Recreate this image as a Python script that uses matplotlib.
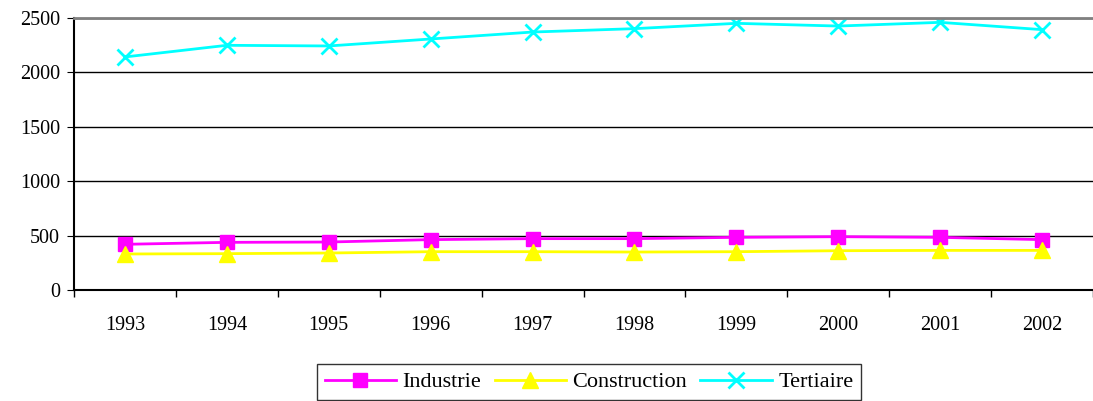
import numpy as np
import matplotlib.pyplot as plt

plt.rcParams['font.family'] = ['Liberation Serif', 'DejaVu Serif']

years = ['1993', '1994', '1995', '1996', '1997', '1998', '1999', '2000', '2001', '2002']
industrie = [420, 438, 441, 463, 472, 472, 484, 490, 484, 463]
construction = [331, 334, 340, 352, 352, 349, 352, 361, 364, 364]
tertiaire = [2142, 2249, 2243, 2307, 2371, 2402, 2451, 2426, 2460, 2393]

fig = plt.figure(figsize=(10.93, 4.01), dpi=100)
ax = fig.add_axes([74 / 1093, 1 - 290 / 401, 1 - 74 / 1093, 272 / 401])

x = np.arange(len(years))
ax.plot(x, industrie, color='#ff00ff', marker='s', markersize=10, lw=2, label='Industrie')
ax.plot(x, construction, color='#ffff00', marker='^', markersize=11, lw=2, label='Construction')
ax.plot(x, tertiaire, color='#00ffff', marker='x', markersize=11, mew=2, lw=2, label='Tertiaire')

ax.set_xlim(-0.5, len(years) - 0.5)
ax.set_ylim(0, 2500)
ax.set_yticks(range(0, 2501, 500))
ax.set_xticks(x)
ax.set_xticklabels(years)
ax.set_xticks(np.arange(-0.5, len(years)), minor=True)
ax.tick_params(axis='x', which='major', length=0, labelsize=14.5, pad=19)
ax.tick_params(axis='x', which='minor', length=5, width=1)
ax.tick_params(axis='y', length=5, labelsize=14.5, pad=5)
ax.yaxis.grid(True, color='black', lw=1)
ax.set_axisbelow(True)

ax.spines['right'].set_visible(False)
ax.spines['top'].set_color('#808080')
ax.spines['top'].set_linewidth(2)
ax.spines['left'].set_linewidth(1.5)
ax.spines['bottom'].set_linewidth(1.5)

leg = ax.legend(loc='center', bbox_to_anchor=(589 / 1093, 19 / 401), bbox_transform=fig.transFigure,
                ncol=3, fontsize=16, frameon=True, fancybox=False, edgecolor='black',
                handlelength=3.2, columnspacing=0.6, handletextpad=0.3, borderpad=0.35)
leg.get_frame().set_linewidth(1)

plt.savefig('out.png', dpi=100)
